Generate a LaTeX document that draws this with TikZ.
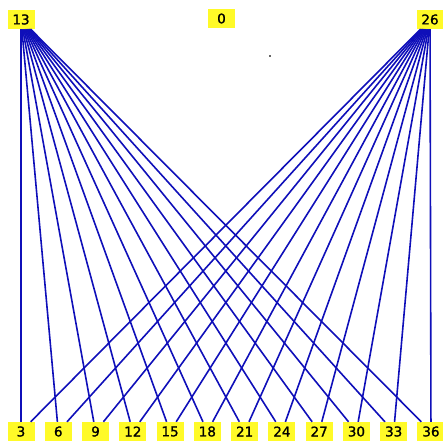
\documentclass[tikz,border=0pt]{standalone}
\usepackage{fontspec}
\setmainfont{DejaVu Sans}
\newfontfamily\numfont[FakeBold=1.2]{DejaVu Sans}
\definecolor{lineblue}{RGB}{15,15,185}
\definecolor{boxyellow}{RGB}{255,250,40}
\tikzset{
  numbox/.style={rectangle, fill=boxyellow, minimum width=27pt, minimum height=19pt, inner sep=1pt, font=\numfont\fontsize{13.5}{16}\selectfont},
  edge/.style={draw=lineblue, line width=1.6pt}
}
\begin{document}
\begin{tikzpicture}[x=1pt,y=-1pt]
\useasboundingbox (0,0) rectangle (443,441);
\node[numbox] (n13) at (21,19.5) {13};
\node[numbox] (n0) at (221.5,18.5) {0};
\node[numbox] (n26) at (430,19.5) {26};
\foreach \v [count=\i from 0] in {3,6,9,12,15,18,21,24,27,30,33,36} {
  \node[numbox] (b\v) at ({21+\i*37.27},431.5) {\v};
}
\foreach \v in {3,6,9,12,15,18,21,24,27,30,33,36} {
  \draw[edge] (n13) -- (b\v);
  \draw[edge] (n26) -- (b\v);
}
\fill[black!60] (269,55) rectangle (271,57);
\end{tikzpicture}
\end{document}
